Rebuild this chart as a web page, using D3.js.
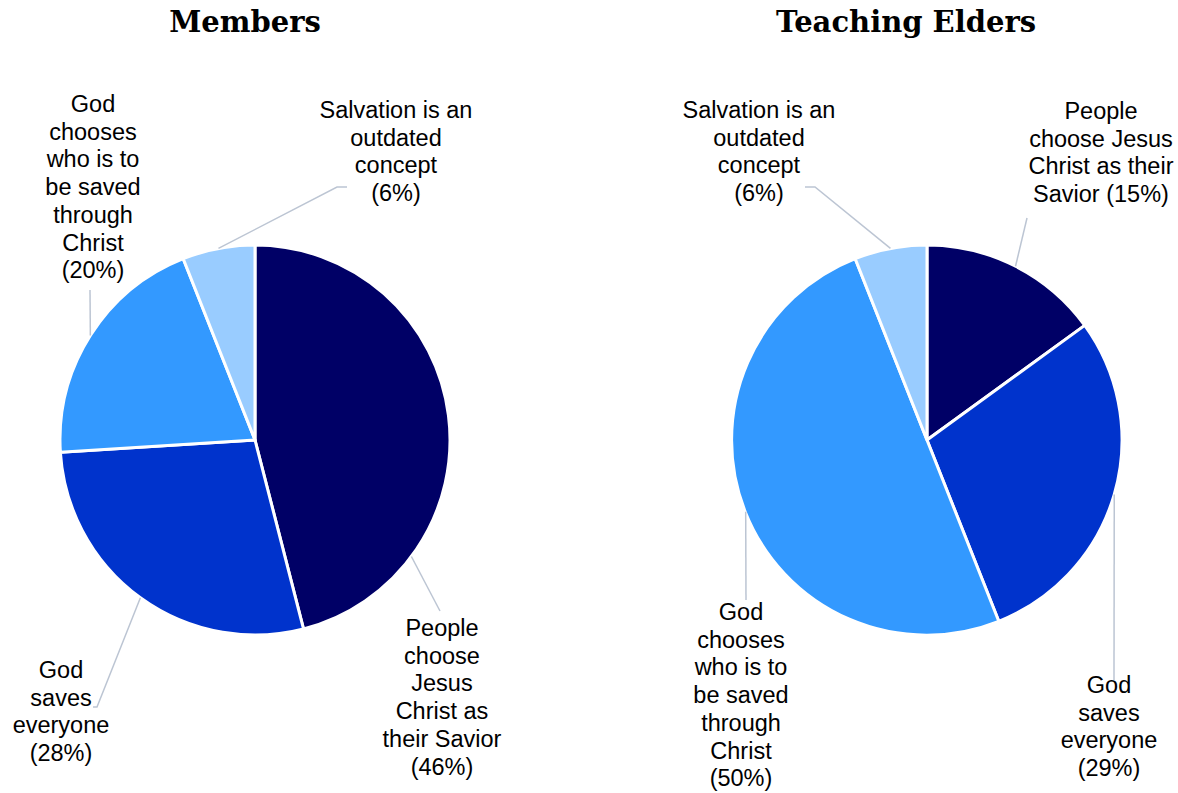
<!DOCTYPE html>
<html>
<head>
<meta charset="utf-8">
<script src="https://cdn.jsdelivr.net/npm/d3@7"></script>
<style>
  html, body { margin: 0; padding: 0; background: #fff; }
  svg { display: block; }
</style>
</head>
<body>
<svg id="chart" width="1178" height="793"></svg>
<script>
// Survey categories and shares (percent)
const categories = [
  "People choose Jesus Christ as their Savior",
  "God saves everyone",
  "God chooses who is to be saved through Christ",
  "Salvation is an outdated concept"
];
const membersValues = [46, 28, 20, 6];
const eldersValues = [15, 29, 50, 6];
const sliceColors = ["#000066", "#0033CC", "#3399FF", "#99CCFF"];

// Wrapped label lines for each pie; "%v" is replaced by the slice value
const membersLabelLines = [
  ["People", "choose", "Jesus", "Christ as", "their Savior", "(%v%)"],
  ["God", "saves", "everyone", "(%v%)"],
  ["God", "chooses", "who is to", "be saved", "through", "Christ", "(%v%)"],
  ["Salvation is an", "outdated", "concept", "(%v%)"]
];
const eldersLabelLines = [
  ["People", "choose Jesus", "Christ as their", "Savior (%v%)"],
  ["God", "saves", "everyone", "(%v%)"],
  ["God", "chooses", "who is to", "be saved", "through", "Christ", "(%v%)"],
  ["Salvation is an", "outdated", "concept", "(%v%)"]
];

// Label placement relative to the pie centre: text anchor, leader end, elbow tail,
// and where along the slice arc the leader attaches (0..1)
const membersLayout = [
  { tx: 187,  ty: 196,  ex: 185,  ey: 171,  tail: 0,   frac: 0.765 },
  { tx: -194, ty: 238,  ex: -158, ey: 267,  tail: -4,  frac: 0.5 },
  { tx: -162, ty: -328, ex: -165, ey: -150, tail: 0,   frac: 0.5 },
  { tx: 141,  ty: -322, ex: 82,   ey: -253, tail: 10,  frac: 0.5 }
];
const eldersLayout = [
  { tx: 174,  ty: -321, ex: 100,  ey: -222, tail: 0,   frac: 0.5 },
  { tx: 182,  ty: 253,  ex: 187,  ey: 240,  tail: 0,   frac: 0.5 },
  { tx: -186, ty: 180,  ex: -181, ey: 160,  tail: 0,   frac: 0.5 },
  { tx: -168, ty: -322, ex: -112, ey: -253, tail: -10, frac: 0.5 }
];

const svg = d3.select("#chart");
const radius = 195;
const lineHeight = 27.7;

const pie = d3.pie().sort(null).value(d => d);
const arc = d3.arc().innerRadius(0).outerRadius(radius);
const color = d3.scaleOrdinal().domain(categories).range(sliceColors);

function drawPie(title, values, labelLines, layout, cx, cy, titleX) {
  svg.append("text")
    .attr("x", titleX)
    .attr("y", 32)
    .attr("text-anchor", "middle")
    .attr("font-family", "'DejaVu Serif', Georgia, serif")
    .attr("font-weight", "bold")
    .attr("font-size", 29)
    .attr("fill", "#000")
    .text(title);

  const g = svg.append("g").attr("transform", `translate(${cx},${cy})`);
  const arcs = pie(values);

  g.selectAll("path.slice")
    .data(arcs)
    .join("path")
    .attr("class", "slice")
    .attr("d", arc)
    .attr("fill", (d, i) => color(categories[i]))
    .attr("stroke", "#fff")
    .attr("stroke-width", 3)
    .attr("stroke-linejoin", "round");

  // Leader lines from the slice edge to the label
  g.selectAll("path.leader")
    .data(arcs)
    .join("path")
    .attr("class", "leader")
    .attr("d", (d, i) => {
      const L = layout[i];
      const a = d.startAngle + L.frac * (d.endAngle - d.startAngle);
      const sx = radius * Math.sin(a);
      const sy = -radius * Math.cos(a);
      const p = d3.path();
      p.moveTo(sx, sy);
      p.lineTo(L.ex, L.ey);
      if (L.tail) p.lineTo(L.ex + L.tail, L.ey);
      return p.toString();
    })
    .attr("fill", "none")
    .attr("stroke", "#BCC5D3")
    .attr("stroke-width", 1.5);

  // Data labels
  const labels = g.selectAll("text.label")
    .data(arcs)
    .join("text")
    .attr("class", "label")
    .attr("text-anchor", "middle")
    .attr("font-family", "'Liberation Sans', Arial, sans-serif")
    .attr("font-size", 23.5)
    .attr("fill", "#000");

  labels.each(function (d, i) {
    const L = layout[i];
    d3.select(this).selectAll("tspan")
      .data(labelLines[i].map(s => s.replace("%v", d.data)))
      .join("tspan")
      .attr("x", L.tx)
      .attr("y", (s, k) => L.ty + k * lineHeight)
      .text(s => s);
  });
}

drawPie("Members", membersValues, membersLabelLines, membersLayout, 255, 440, 245);
drawPie("Teaching Elders", eldersValues, eldersLabelLines, eldersLayout, 927, 440, 906);
</script>
</body>
</html>
